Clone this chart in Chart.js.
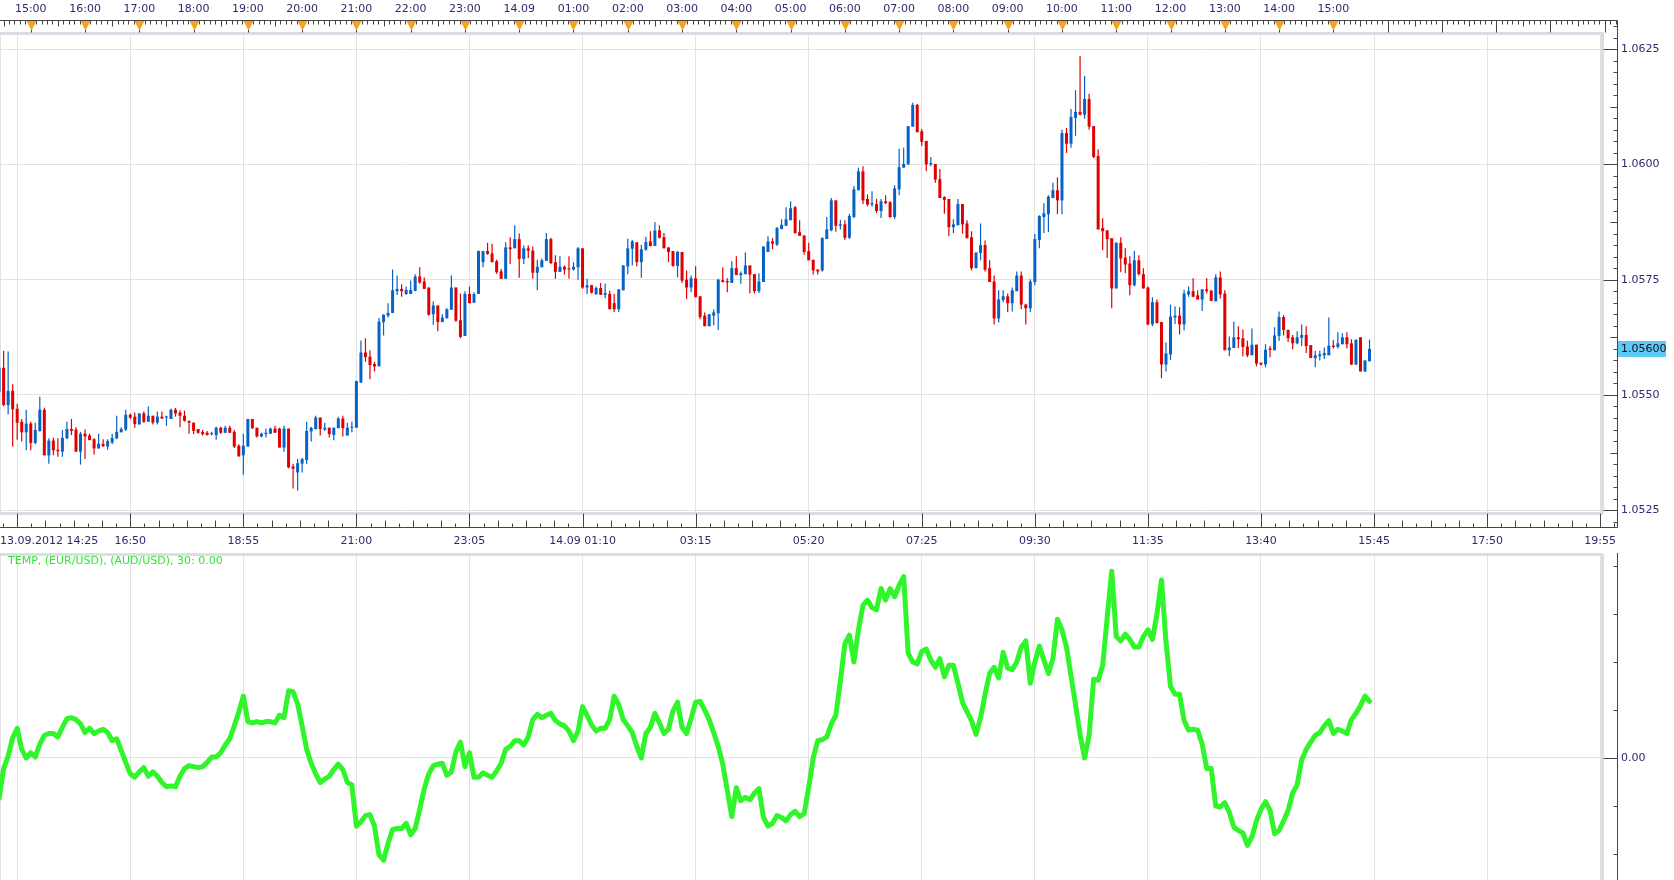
<!DOCTYPE html>
<html>
<head>
<meta charset="utf-8">
<title>EUR/USD M5 — TEMP</title>
<script src="https://cdn.jsdelivr.net/npm/chart.js@4.4.1/dist/chart.umd.min.js"></script>
<style>
  html, body { margin: 0; padding: 0; background: #fff; font-family: 'DejaVu Sans', Verdana, sans-serif; }
  #wrap { position: relative; width: 1674px; height: 880px; overflow: hidden; }
  #main { position: absolute; left: 0; top: 0; }
  #temp { position: absolute; left: 0; top: 553px; }
  #tempLabel { position: absolute; left: 8px; top: 554px; font-size: 11px; color: #2fe82f; white-space: nowrap; }
</style>
</head>
<body>
<div id="wrap">
  <canvas id="main" width="1674" height="556"></canvas>
  <canvas id="temp" width="1674" height="327"></canvas>
  <div id="tempLabel">TEMP, (EUR/USD), (AUD/USD), 30: 0.00</div>
</div>
<script>
// ═══════════════════════════════════════
//  DONNÉES — bougies 5 min depuis 13.09.2012 14:25
// ═══════════════════════════════════════

const opens = [
  1.05506, 1.05559, 1.05478, 1.05509, 1.05470, 1.05442, 1.05419, 1.05438, 1.05396, 1.05422,
  1.05468, 1.05369, 1.05401, 1.05381, 1.05377, 1.05406, 1.05426, 1.05425, 1.05377, 1.05416,
  1.05412, 1.05404, 1.05384, 1.05394, 1.05388, 1.05397, 1.05406, 1.05419, 1.05425, 1.05457,
  1.05453, 1.05436, 1.05460, 1.05442, 1.05455, 1.05440, 1.05453, 1.05451, 1.05448, 1.05468,
  1.05462, 1.05455, 1.05444, 1.05440, 1.05426, 1.05420, 1.05418, 1.05415, 1.05413, 1.05429,
  1.05418, 1.05429, 1.05420, 1.05390, 1.05369, 1.05388, 1.05448, 1.05429, 1.05410, 1.05415,
  1.05416, 1.05427, 1.05427, 1.05386, 1.05427, 1.05345, 1.05332, 1.05351, 1.05359, 1.05421,
  1.05426, 1.05451, 1.05425, 1.05429, 1.05413, 1.05428, 1.05449, 1.05412, 1.05429, 1.05429,
  1.05527, 1.05592, 1.05583, 1.05567, 1.05562, 1.05658, 1.05672, 1.05678, 1.05725, 1.05730,
  1.05719, 1.05719, 1.05726, 1.05757, 1.05746, 1.05733, 1.05675, 1.05694, 1.05658, 1.05667,
  1.05685, 1.05733, 1.05662, 1.05628, 1.05719, 1.05700, 1.05719, 1.05788, 1.05812, 1.05807,
  1.05790, 1.05768, 1.05752, 1.05820, 1.05818, 1.05838, 1.05795, 1.05818, 1.05813, 1.05765,
  1.05777, 1.05791, 1.05838, 1.05788, 1.05767, 1.05778, 1.05774, 1.05772, 1.05777, 1.05818,
  1.05733, 1.05738, 1.05719, 1.05732, 1.05717, 1.05719, 1.05699, 1.05686, 1.05727, 1.05779,
  1.05817, 1.05831, 1.05788, 1.05815, 1.05833, 1.05823, 1.05857, 1.05842, 1.05820, 1.05812,
  1.05780, 1.05810, 1.05750, 1.05733, 1.05753, 1.05714, 1.05672, 1.05649, 1.05672, 1.05677,
  1.05749, 1.05747, 1.05743, 1.05775, 1.05760, 1.05762, 1.05781, 1.05762, 1.05725, 1.05745,
  1.05810, 1.05833, 1.05826, 1.05860, 1.05867, 1.05879, 1.05907, 1.05853, 1.05846, 1.05812,
  1.05793, 1.05772, 1.05770, 1.05838, 1.05857, 1.05922, 1.05867, 1.05870, 1.05841, 1.05886,
  1.05944, 1.05985, 1.05925, 1.05913, 1.05914, 1.05899, 1.05920, 1.05918, 1.05886, 1.05946,
  1.05993, 1.06000, 1.06082, 1.06129, 1.06072, 1.06051, 1.06000, 1.06001, 1.05968, 1.05929,
  1.05925, 1.05864, 1.05868, 1.05914, 1.05872, 1.05842, 1.05775, 1.05808, 1.05825, 1.05775,
  1.05746, 1.05666, 1.05706, 1.05714, 1.05699, 1.05725, 1.05759, 1.05696, 1.05688, 1.05745,
  1.05836, 1.05886, 1.05892, 1.05927, 1.05944, 1.05922, 1.06068, 1.06045, 1.06101, 1.06114,
  1.06108, 1.06142, 1.06083, 1.06018, 1.05862, 1.05857, 1.05840, 1.05731, 1.05830, 1.05798,
  1.05785, 1.05738, 1.05792, 1.05762, 1.05733, 1.05653, 1.05701, 1.05658, 1.05566, 1.05588,
  1.05668, 1.05672, 1.05653, 1.05718, 1.05725, 1.05716, 1.05707, 1.05729, 1.05726, 1.05703,
  1.05755, 1.05720, 1.05597, 1.05602, 1.05625, 1.05623, 1.05605, 1.05586, 1.05609, 1.05570,
  1.05566, 1.05601, 1.05597, 1.05628, 1.05669, 1.05641, 1.05625, 1.05612, 1.05624, 1.05630,
  1.05608, 1.05580, 1.05584, 1.05586, 1.05586, 1.05607, 1.05604, 1.05610, 1.05625, 1.05612,
  1.05566, 1.05625, 1.05551, 1.05573
];

const highs = [
  1.05572, 1.05596, 1.05594, 1.05523, 1.05481, 1.05448, 1.05468, 1.05442, 1.05440, 1.05496,
  1.05472, 1.05406, 1.05407, 1.05406, 1.05424, 1.05442, 1.05448, 1.05430, 1.05420, 1.05425,
  1.05416, 1.05406, 1.05416, 1.05404, 1.05404, 1.05416, 1.05455, 1.05430, 1.05468, 1.05460,
  1.05462, 1.05460, 1.05464, 1.05475, 1.05455, 1.05464, 1.05464, 1.05455, 1.05470, 1.05472,
  1.05467, 1.05466, 1.05444, 1.05440, 1.05426, 1.05424, 1.05422, 1.05420, 1.05431, 1.05431,
  1.05433, 1.05433, 1.05424, 1.05393, 1.05416, 1.05448, 1.05448, 1.05429, 1.05418, 1.05427,
  1.05429, 1.05433, 1.05429, 1.05433, 1.05427, 1.05351, 1.05361, 1.05364, 1.05442, 1.05431,
  1.05455, 1.05451, 1.05440, 1.05429, 1.05429, 1.05453, 1.05455, 1.05440, 1.05442, 1.05531,
  1.05618, 1.05623, 1.05597, 1.05572, 1.05667, 1.05675, 1.05699, 1.05772, 1.05759, 1.05740,
  1.05735, 1.05748, 1.05762, 1.05777, 1.05755, 1.05733, 1.05703, 1.05694, 1.05675, 1.05688,
  1.05759, 1.05733, 1.05720, 1.05725, 1.05735, 1.05723, 1.05813, 1.05812, 1.05830, 1.05828,
  1.05793, 1.05773, 1.05831, 1.05842, 1.05868, 1.05850, 1.05824, 1.05824, 1.05822, 1.05793,
  1.05796, 1.05851, 1.05841, 1.05803, 1.05801, 1.05781, 1.05801, 1.05788, 1.05821, 1.05818,
  1.05752, 1.05739, 1.05735, 1.05743, 1.05741, 1.05726, 1.05719, 1.05729, 1.05781, 1.05839,
  1.05836, 1.05831, 1.05826, 1.05843, 1.05855, 1.05875, 1.05868, 1.05851, 1.05820, 1.05812,
  1.05812, 1.05810, 1.05770, 1.05759, 1.05779, 1.05714, 1.05679, 1.05675, 1.05686, 1.05752,
  1.05777, 1.05753, 1.05790, 1.05801, 1.05768, 1.05809, 1.05781, 1.05762, 1.05764, 1.05822,
  1.05844, 1.05840, 1.05864, 1.05881, 1.05907, 1.05920, 1.05910, 1.05879, 1.05846, 1.05830,
  1.05794, 1.05772, 1.05842, 1.05886, 1.05927, 1.05922, 1.05880, 1.05879, 1.05893, 1.05953,
  1.05993, 1.05996, 1.05935, 1.05942, 1.05925, 1.05925, 1.05933, 1.05920, 1.05955, 1.06034,
  1.06036, 1.06083, 1.06134, 1.06131, 1.06077, 1.06051, 1.06016, 1.06001, 1.05990, 1.05931,
  1.05925, 1.05881, 1.05925, 1.05914, 1.05879, 1.05855, 1.05809, 1.05872, 1.05835, 1.05792,
  1.05759, 1.05727, 1.05727, 1.05720, 1.05733, 1.05768, 1.05768, 1.05698, 1.05751, 1.05849,
  1.05890, 1.05916, 1.05933, 1.05960, 1.05972, 1.06075, 1.06079, 1.06120, 1.06161, 1.06235,
  1.06192, 1.06153, 1.06083, 1.06033, 1.05883, 1.05857, 1.05840, 1.05831, 1.05842, 1.05818,
  1.05801, 1.05812, 1.05803, 1.05775, 1.05735, 1.05712, 1.05707, 1.05658, 1.05614, 1.05696,
  1.05692, 1.05690, 1.05728, 1.05735, 1.05753, 1.05727, 1.05729, 1.05753, 1.05728, 1.05762,
  1.05768, 1.05727, 1.05627, 1.05659, 1.05649, 1.05642, 1.05618, 1.05644, 1.05609, 1.05570,
  1.05610, 1.05606, 1.05647, 1.05681, 1.05673, 1.05642, 1.05630, 1.05638, 1.05653, 1.05649,
  1.05608, 1.05596, 1.05596, 1.05603, 1.05668, 1.05619, 1.05636, 1.05634, 1.05636, 1.05621,
  1.05620, 1.05625, 1.05575, 1.05620
];

const lows = [
  1.05500, 1.05476, 1.05458, 1.05388, 1.05403, 1.05399, 1.05380, 1.05380, 1.05393, 1.05420,
  1.05369, 1.05351, 1.05369, 1.05366, 1.05366, 1.05404, 1.05413, 1.05377, 1.05349, 1.05361,
  1.05402, 1.05371, 1.05384, 1.05387, 1.05381, 1.05393, 1.05404, 1.05419, 1.05422, 1.05448,
  1.05429, 1.05436, 1.05439, 1.05442, 1.05436, 1.05436, 1.05448, 1.05433, 1.05448, 1.05453,
  1.05430, 1.05442, 1.05416, 1.05415, 1.05416, 1.05412, 1.05412, 1.05412, 1.05403, 1.05416,
  1.05418, 1.05418, 1.05385, 1.05366, 1.05327, 1.05388, 1.05426, 1.05408, 1.05408, 1.05408,
  1.05416, 1.05418, 1.05386, 1.05377, 1.05341, 1.05297, 1.05293, 1.05332, 1.05351, 1.05399,
  1.05425, 1.05412, 1.05422, 1.05408, 1.05402, 1.05428, 1.05410, 1.05412, 1.05419, 1.05429,
  1.05526, 1.05572, 1.05534, 1.05551, 1.05562, 1.05629, 1.05668, 1.05678, 1.05717, 1.05713,
  1.05717, 1.05719, 1.05725, 1.05741, 1.05730, 1.05672, 1.05652, 1.05638, 1.05658, 1.05665,
  1.05685, 1.05659, 1.05623, 1.05628, 1.05699, 1.05700, 1.05719, 1.05777, 1.05804, 1.05788,
  1.05763, 1.05752, 1.05752, 1.05784, 1.05818, 1.05754, 1.05784, 1.05797, 1.05752, 1.05727,
  1.05777, 1.05791, 1.05784, 1.05752, 1.05767, 1.05761, 1.05752, 1.05770, 1.05750, 1.05730,
  1.05719, 1.05720, 1.05717, 1.05717, 1.05710, 1.05686, 1.05680, 1.05680, 1.05727, 1.05762,
  1.05781, 1.05779, 1.05754, 1.05813, 1.05822, 1.05823, 1.05839, 1.05818, 1.05788, 1.05778,
  1.05755, 1.05743, 1.05708, 1.05723, 1.05712, 1.05664, 1.05649, 1.05649, 1.05651, 1.05641,
  1.05744, 1.05723, 1.05743, 1.05760, 1.05741, 1.05762, 1.05720, 1.05720, 1.05721, 1.05745,
  1.05810, 1.05816, 1.05823, 1.05859, 1.05867, 1.05879, 1.05850, 1.05845, 1.05804, 1.05792,
  1.05761, 1.05761, 1.05768, 1.05838, 1.05855, 1.05854, 1.05859, 1.05836, 1.05838, 1.05883,
  1.05944, 1.05914, 1.05909, 1.05908, 1.05894, 1.05884, 1.05914, 1.05884, 1.05881, 1.05933,
  1.05993, 1.06000, 1.06082, 1.06069, 1.06040, 1.05985, 1.05996, 1.05960, 1.05927, 1.05893,
  1.05844, 1.05851, 1.05868, 1.05850, 1.05840, 1.05770, 1.05775, 1.05792, 1.05768, 1.05745,
  1.05653, 1.05657, 1.05701, 1.05680, 1.05681, 1.05725, 1.05686, 1.05653, 1.05680, 1.05738,
  1.05818, 1.05851, 1.05853, 1.05927, 1.05892, 1.05892, 1.06025, 1.06036, 1.06062, 1.06106,
  1.06099, 1.06075, 1.06014, 1.05859, 1.05814, 1.05797, 1.05688, 1.05731, 1.05766, 1.05764,
  1.05716, 1.05735, 1.05759, 1.05731, 1.05651, 1.05649, 1.05655, 1.05536, 1.05551, 1.05576,
  1.05654, 1.05631, 1.05640, 1.05713, 1.05712, 1.05707, 1.05682, 1.05720, 1.05703, 1.05703,
  1.05709, 1.05597, 1.05584, 1.05602, 1.05602, 1.05584, 1.05582, 1.05586, 1.05562, 1.05564,
  1.05560, 1.05582, 1.05597, 1.05617, 1.05629, 1.05615, 1.05599, 1.05610, 1.05606, 1.05591,
  1.05580, 1.05560, 1.05575, 1.05578, 1.05586, 1.05601, 1.05601, 1.05610, 1.05601, 1.05565,
  1.05565, 1.05551, 1.05550, 1.05573
];

const closes = [
  1.05559, 1.05478, 1.05509, 1.05469, 1.05440, 1.05419, 1.05438, 1.05396, 1.05424, 1.05468,
  1.05369, 1.05401, 1.05380, 1.05378, 1.05407, 1.05426, 1.05422, 1.05377, 1.05416, 1.05410,
  1.05402, 1.05384, 1.05394, 1.05389, 1.05400, 1.05407, 1.05420, 1.05426, 1.05457, 1.05451,
  1.05437, 1.05460, 1.05442, 1.05455, 1.05440, 1.05453, 1.05449, 1.05453, 1.05468, 1.05460,
  1.05455, 1.05444, 1.05440, 1.05422, 1.05418, 1.05415, 1.05413, 1.05416, 1.05429, 1.05418,
  1.05429, 1.05418, 1.05388, 1.05367, 1.05390, 1.05448, 1.05428, 1.05410, 1.05416, 1.05418,
  1.05427, 1.05418, 1.05386, 1.05427, 1.05343, 1.05340, 1.05352, 1.05361, 1.05422, 1.05429,
  1.05451, 1.05426, 1.05429, 1.05415, 1.05429, 1.05449, 1.05428, 1.05429, 1.05431, 1.05530,
  1.05592, 1.05582, 1.05565, 1.05562, 1.05659, 1.05674, 1.05678, 1.05727, 1.05730, 1.05725,
  1.05728, 1.05728, 1.05757, 1.05744, 1.05730, 1.05674, 1.05694, 1.05658, 1.05668, 1.05686,
  1.05733, 1.05661, 1.05626, 1.05719, 1.05699, 1.05719, 1.05812, 1.05812, 1.05806, 1.05788,
  1.05766, 1.05752, 1.05820, 1.05816, 1.05838, 1.05795, 1.05818, 1.05813, 1.05765, 1.05778,
  1.05792, 1.05838, 1.05786, 1.05767, 1.05778, 1.05772, 1.05772, 1.05778, 1.05818, 1.05733,
  1.05738, 1.05722, 1.05732, 1.05717, 1.05721, 1.05686, 1.05686, 1.05729, 1.05781, 1.05818,
  1.05833, 1.05788, 1.05816, 1.05832, 1.05823, 1.05857, 1.05841, 1.05818, 1.05810, 1.05780,
  1.05810, 1.05748, 1.05733, 1.05753, 1.05712, 1.05669, 1.05649, 1.05675, 1.05679, 1.05750,
  1.05745, 1.05744, 1.05775, 1.05760, 1.05764, 1.05781, 1.05761, 1.05725, 1.05746, 1.05822,
  1.05833, 1.05828, 1.05862, 1.05869, 1.05881, 1.05905, 1.05851, 1.05845, 1.05810, 1.05792,
  1.05770, 1.05768, 1.05840, 1.05859, 1.05922, 1.05867, 1.05870, 1.05841, 1.05888, 1.05946,
  1.05985, 1.05922, 1.05913, 1.05916, 1.05899, 1.05920, 1.05916, 1.05886, 1.05948, 1.05994,
  1.06001, 1.06083, 1.06129, 1.06070, 1.06049, 1.06000, 1.06003, 1.05967, 1.05927, 1.05923,
  1.05864, 1.05870, 1.05914, 1.05870, 1.05840, 1.05775, 1.05809, 1.05825, 1.05772, 1.05745,
  1.05666, 1.05707, 1.05714, 1.05699, 1.05727, 1.05759, 1.05696, 1.05688, 1.05746, 1.05838,
  1.05888, 1.05894, 1.05930, 1.05944, 1.05922, 1.06068, 1.06045, 1.06103, 1.06114, 1.06108,
  1.06142, 1.06082, 1.06016, 1.05859, 1.05855, 1.05838, 1.05731, 1.05830, 1.05796, 1.05783,
  1.05738, 1.05792, 1.05762, 1.05731, 1.05653, 1.05701, 1.05656, 1.05566, 1.05590, 1.05670,
  1.05672, 1.05653, 1.05720, 1.05725, 1.05713, 1.05707, 1.05729, 1.05725, 1.05704, 1.05755,
  1.05718, 1.05597, 1.05603, 1.05625, 1.05621, 1.05604, 1.05586, 1.05609, 1.05568, 1.05566,
  1.05598, 1.05598, 1.05629, 1.05669, 1.05641, 1.05623, 1.05612, 1.05625, 1.05630, 1.05606,
  1.05580, 1.05586, 1.05588, 1.05591, 1.05607, 1.05604, 1.05612, 1.05625, 1.05610, 1.05566,
  1.05620, 1.05551, 1.05575, 1.05600
];

// indicateur TEMP (EUR/USD vs AUD/USD, 30), une valeur par bougie
const temp = [
  -0.84, -0.22, 0.04, 0.42, 0.62, 0.18, 0.00, 0.11, 0.02, 0.29,
  0.47, 0.51, 0.51, 0.44, 0.64, 0.82, 0.84, 0.80, 0.71, 0.53,
  0.62, 0.51, 0.56, 0.60, 0.53, 0.36, 0.40, 0.16, -0.09, -0.33,
  -0.40, -0.29, -0.20, -0.38, -0.29, -0.38, -0.51, -0.60, -0.58, -0.60,
  -0.38, -0.22, -0.16, -0.18, -0.20, -0.18, -0.09, 0.02, 0.02, 0.11,
  0.27, 0.40, 0.67, 0.96, 1.29, 0.76, 0.73, 0.76, 0.73, 0.76,
  0.76, 0.73, 0.89, 0.84, 1.40, 1.38, 1.13, 0.67, 0.18, -0.11,
  -0.33, -0.51, -0.44, -0.38, -0.24, -0.13, -0.24, -0.51, -0.56, -1.42,
  -1.33, -1.20, -1.18, -1.42, -2.02, -2.13, -1.78, -1.49, -1.47, -1.47,
  -1.36, -1.60, -1.47, -1.07, -0.64, -0.33, -0.16, -0.13, -0.11, -0.36,
  -0.29, 0.13, 0.33, -0.18, 0.11, -0.40, -0.40, -0.31, -0.36, -0.40,
  -0.27, -0.11, 0.18, 0.24, 0.36, 0.36, 0.27, 0.44, 0.80, 0.91,
  0.84, 0.89, 0.93, 0.78, 0.71, 0.67, 0.56, 0.36, 0.56, 1.07,
  0.89, 0.69, 0.56, 0.62, 0.62, 0.80, 1.29, 1.11, 0.80, 0.67,
  0.53, 0.24, 0.00, 0.51, 0.64, 0.93, 0.73, 0.51, 0.60, 0.98,
  1.16, 0.64, 0.51, 0.82, 1.16, 1.18, 1.00, 0.80, 0.53, 0.24,
  -0.13, -0.67, -1.22, -0.62, -0.89, -0.82, -0.87, -0.73, -0.64, -1.24,
  -1.42, -1.36, -1.20, -1.24, -1.31, -1.18, -1.11, -1.22, -1.16, -0.62,
  0.00, 0.36, 0.38, 0.44, 0.71, 0.89, 1.60, 2.38, 2.56, 2.00,
  2.67, 3.18, 3.29, 3.13, 3.09, 3.53, 3.29, 3.53, 3.36, 3.60,
  3.78, 2.18, 2.00, 1.96, 2.22, 2.27, 2.04, 1.89, 2.07, 1.69,
  1.93, 1.93, 1.56, 1.16, 0.96, 0.78, 0.49, 0.84, 1.33, 1.76,
  1.89, 1.67, 2.20, 1.87, 1.84, 2.00, 2.31, 2.44, 1.56, 2.00,
  2.33, 2.04, 1.76, 2.07, 2.89, 2.67, 2.31, 1.71, 1.11, 0.49,
  0.00, 0.47, 1.64, 1.62, 1.93, 2.93, 3.89, 2.53, 2.44, 2.58,
  2.47, 2.31, 2.31, 2.53, 2.67, 2.47, 3.00, 3.71, 2.42, 1.49,
  1.33, 1.33, 0.78, 0.58, 0.60, 0.58, 0.29, -0.22, -0.22, -1.00,
  -1.02, -0.93, -1.13, -1.44, -1.51, -1.56, -1.82, -1.64, -1.31, -1.07,
  -0.91, -1.09, -1.58, -1.51, -1.31, -1.09, -0.73, -0.56, -0.04, 0.18,
  0.33, 0.47, 0.53, 0.67, 0.78, 0.51, 0.60, 0.56, 0.51, 0.80,
  0.93, 1.09, 1.29, 1.18
];

// axe du bas : indice de bougie -> libellé
const bottomTickBars   = [0, 4, 29, 54, 79, 104, 129, 154, 179, 204, 229, 254, 279, 304, 329, 354];
const bottomTickLabels = ['13.09.2012 14:25', '', '16:50', '18:55', '21:00', '23:05', '14.09 01:10',
                          '03:15', '05:20', '07:25', '09:30', '11:35', '13:40', '15:45', '17:50', '19:55'];

// axe du haut : une marque par heure
const hourTickBars   = [7, 19, 31, 43, 55, 67, 79, 91, 103, 115, 127, 139, 151, 163, 175, 187, 199,
                        211, 223, 235, 247, 259, 271, 283, 295, 307, 319, 331, 343];
const hourTickLabels = ['15:00', '16:00', '17:00', '18:00', '19:00', '20:00', '21:00', '22:00', '23:00',
                        '14.09', '01:00', '02:00', '03:00', '04:00', '05:00', '06:00', '07:00', '08:00',
                        '09:00', '10:00', '11:00', '12:00', '13:00', '14:00', '15:00'];

const priceTicks = [1.0525, 1.0550, 1.0575, 1.0600, 1.0625];
const tempTicks  = [0];

// ═══════════════════════════════════════
//  STYLE
// ═══════════════════════════════════════

const RED = '#e00000', BLUE = '#0562c6', GREEN = '#2ff52a';
const GRID = '#e2e2e2', BORDER = '#dadfe6', AXIS = '#444444', TRI = '#f7a21b';
const X_MIN = 0.2, X_MAX = 354.4;
const Y_MIN = 1.05244, Y_MAX = 1.06285;
const T_MIN = -2.5417, T_MAX = 4.2292;

Chart.defaults.font.family = "'DejaVu Sans', Verdana, sans-serif";
Chart.defaults.font.size = 11;
Chart.defaults.color = '#2b2b6e';

const candleColor = c => closes[c.dataIndex] >= opens[c.dataIndex] ? BLUE : RED;

function zeroPad(s) {
  s.paddingLeft = 0; s.paddingRight = 0; s.paddingTop = 0; s.paddingBottom = 0;
}

function bottomTicks(s) {
  s.ticks = bottomTickBars.map(v => ({ value: Math.min(Math.max(v, X_MIN), X_MAX) }));
  s.ticks.push({ value: X_MAX });
}

// ═══════════════════════════════════════
//  CADRES / GRADUATIONS
// ═══════════════════════════════════════

const mainFrame = {
  id: 'mainFrame',
  afterDraw(chart) {
    const { ctx, chartArea: a } = chart;
    const xs = chart.scales.x, ys = chart.scales.y;
    const axisX = a.right + 15.5, topY = 20.5, botY = a.bottom + 14.5;
    const px = v => Math.round(xs.getPixelForValue(v)) + 0.5;

    ctx.save();
    ctx.strokeStyle = AXIS;
    ctx.lineWidth = 1;
    ctx.beginPath();
    ctx.moveTo(0, topY); ctx.lineTo(axisX, topY); ctx.lineTo(axisX, botY); ctx.lineTo(0, botY);

    // haut : heures + pas de 6 minutes
    for (let k = -6; k < 400; k++) {
      const x = px(hourTickBars[0] + k * 1.2);
      if (x < 0) continue;
      if (x > axisX) break;
      const m = ((k % 10) + 10) % 10;
      const len = m === 0 ? 12 : (m === 5 ? 6 : 4);
      ctx.moveTo(x, topY); ctx.lineTo(x, topY + len);
    }

    // bas : 125 min, subdivisé en 8
    for (let k = -2; k < 200; k++) {
      const x = px(bottomTickBars[1] + k * 3.125);
      if (x < 0) continue;
      if (x > axisX) break;
      const m = ((k % 8) + 8) % 8;
      const len = m === 0 ? 14 : (m % 2 === 0 ? 7 : 4);
      ctx.moveTo(x, botY); ctx.lineTo(x, botY - len);
    }

    // droite : pas de 0.00025
    for (let n = -5; n < 60; n++) {
      const y = Math.round(ys.getPixelForValue(priceTicks[0] + n * 0.00025)) + 0.5;
      if (y < topY || y > botY) continue;
      const m = ((n % 10) + 10) % 10;
      const len = m === 0 ? 14 : (m === 5 ? 7 : 4);
      ctx.moveTo(axisX, y); ctx.lineTo(axisX - len, y);
    }
    ctx.stroke();

    // triangles orange sous les heures
    ctx.fillStyle = TRI;
    hourTickLabels.forEach((lab, k) => {
      const x = px(hourTickBars[k]);
      ctx.beginPath();
      ctx.moveTo(x - 5, topY + 0.5);
      ctx.lineTo(x + 5, topY + 0.5);
      ctx.lineTo(x, topY + 10);
      ctx.closePath();
      ctx.fill();
    });

    // dernier prix
    const last = closes[closes.length - 1];
    const y = Math.round(ys.getPixelForValue(last));
    ctx.fillStyle = '#5ec8f6';
    ctx.fillRect(a.right + 16, y - 8, 48, 16);
    ctx.fillStyle = '#111111';
    ctx.font = "11px 'DejaVu Sans', Verdana, sans-serif";
    ctx.textBaseline = 'middle';
    ctx.textAlign = 'left';
    ctx.fillText(last.toFixed(5), a.right + 19, y + 0.5);
    ctx.restore();
  }
};

const tempFrame = {
  id: 'tempFrame',
  afterDraw(chart) {
    const { ctx, chartArea: a } = chart;
    const ys = chart.scales.y;
    const axisX = a.right + 15.5;
    ctx.save();
    ctx.fillStyle = BORDER;
    ctx.fillRect(0, 0, a.right + 1, 3);
    ctx.strokeStyle = AXIS;
    ctx.lineWidth = 1;
    ctx.beginPath();
    ctx.moveTo(axisX, 0); ctx.lineTo(axisX, chart.height);
    for (let v = -3; v <= 5; v++) {
      const y = Math.round(ys.getPixelForValue(v)) + 0.5;
      if (y < 0 || y > chart.height) continue;
      const len = v === 0 ? 14 : 4;
      ctx.moveTo(axisX, y); ctx.lineTo(axisX - len, y);
    }
    ctx.stroke();
    ctx.restore();
  }
};

// ═══════════════════════════════════════
//  GRAPHE PRINCIPAL (bougies)
// ═══════════════════════════════════════

new Chart(document.getElementById('main'), {
  type: 'bar',
  data: {
    datasets: [
      {
        label: 'mèches',
        data: lows.map((l, i) => ({ x: i, y: [l, highs[i]] })),
        backgroundColor: candleColor,
        barThickness: 1.2,
        grouped: false,
        minBarLength: 1,
        inflateAmount: 0,
        borderWidth: 0,
        order: 2
      },
      {
        label: 'corps',
        data: opens.map((o, i) => ({ x: i, y: [o, closes[i]] })),
        backgroundColor: candleColor,
        barThickness: 3,
        grouped: false,
        minBarLength: 1,
        inflateAmount: 0,
        borderWidth: 0,
        order: 1
      }
    ]
  },
  options: {
    responsive: false,
    animation: false,
    devicePixelRatio: 1,
    events: [],
    layout: { padding: 0 },
    plugins: { legend: { display: false }, tooltip: { enabled: false } },
    scales: {
      x: {
        type: 'linear',
        position: 'bottom',
        min: X_MIN, max: X_MAX,
        offset: false,
        afterBuildTicks: bottomTicks,
        afterFit: s => { s.height = 43; zeroPad(s); },
        ticks: {
          autoSkip: false, maxRotation: 0, minRotation: 0, align: 'inner', padding: 22,
          callback: (v, i) => bottomTickLabels[i] ?? ''
        },
        grid: {
          color: c => c.index >= bottomTickLabels.length ? 'rgba(0,0,0,0)' : GRID,
          drawTicks: false, offset: false
        },
        border: { display: true, color: BORDER, width: 3 }
      },
      x2: {
        type: 'linear',
        position: 'top',
        min: X_MIN, max: X_MAX,
        offset: false,
        afterBuildTicks: s => { s.ticks = hourTickBars.map(v => ({ value: v })); },
        afterFit: s => { s.height = 33; zeroPad(s); },
        ticks: {
          autoSkip: false, maxRotation: 0, minRotation: 0, padding: 17,
          callback: (v, i) => hourTickLabels[i] ?? ''
        },
        grid: { display: false, drawTicks: false },
        border: { display: true, color: BORDER, width: 3 }
      },
      y: {
        position: 'right',
        min: Y_MIN, max: Y_MAX,
        afterBuildTicks: s => { s.ticks = priceTicks.map(v => ({ value: v })); },
        afterFit: s => { s.width = 72; zeroPad(s); },
        ticks: { padding: 19, callback: v => v.toFixed(4) },
        grid: { color: GRID, drawTicks: false },
        border: { display: true, color: BORDER, width: 3 }
      }
    }
  },
  plugins: [mainFrame]
});

// ═══════════════════════════════════════
//  INDICATEUR TEMP
// ═══════════════════════════════════════

new Chart(document.getElementById('temp'), {
  type: 'line',
  data: {
    datasets: [{
      label: 'TEMP',
      data: temp.map((v, i) => ({ x: i, y: v })),
      borderColor: GREEN,
      borderWidth: 5,
      pointRadius: 0,
      tension: 0,
      borderJoinStyle: 'round',
      borderCapStyle: 'round'
    }]
  },
  options: {
    responsive: false,
    animation: false,
    devicePixelRatio: 1,
    events: [],
    layout: { padding: { top: 2 } },
    plugins: { legend: { display: false }, tooltip: { enabled: false } },
    scales: {
      x: {
        type: 'linear',
        min: X_MIN, max: X_MAX,
        offset: false,
        afterBuildTicks: bottomTicks,
        afterFit: s => { s.height = 0; zeroPad(s); },
        ticks: { display: false },
        grid: {
          color: c => c.index >= bottomTickLabels.length ? 'rgba(0,0,0,0)' : GRID,
          drawTicks: false
        },
        border: { display: false }
      },
      y: {
        position: 'right',
        min: T_MIN, max: T_MAX,
        afterBuildTicks: s => { s.ticks = tempTicks.map(v => ({ value: v })); },
        afterFit: s => { s.width = 72; zeroPad(s); },
        ticks: { padding: 19, callback: v => v.toFixed(2) },
        grid: { color: GRID, drawTicks: false },
        border: { display: true, color: BORDER, width: 3 }
      }
    }
  },
  plugins: [tempFrame]
});
</script>
</body>
</html>
